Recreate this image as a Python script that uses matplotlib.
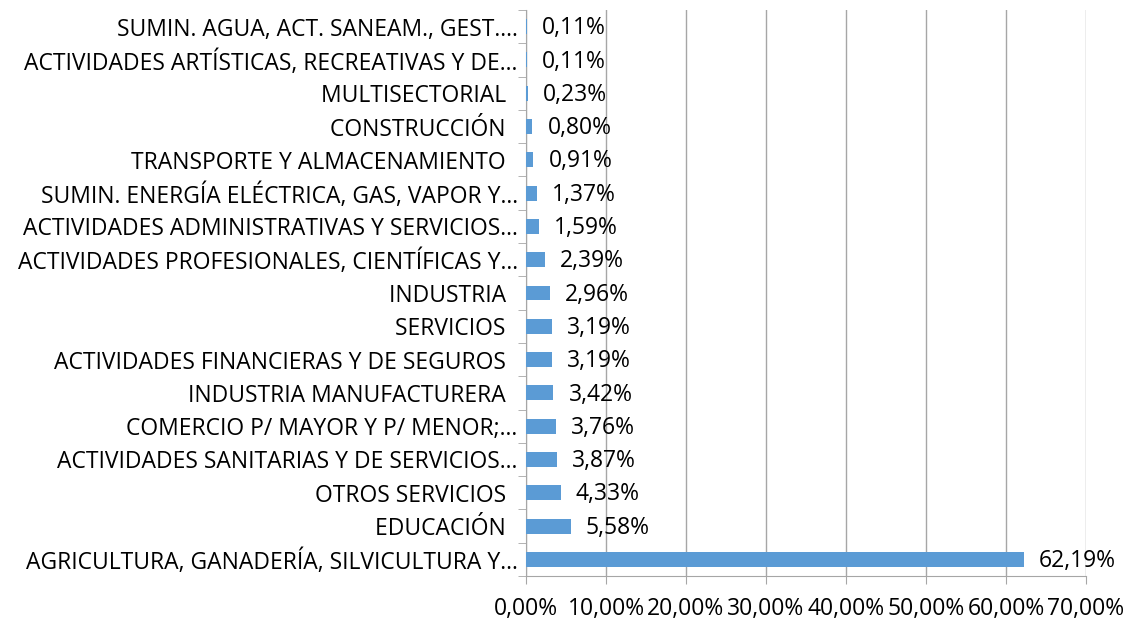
import matplotlib.pyplot as plt
from matplotlib.ticker import MultipleLocator, FixedLocator, FuncFormatter

# categories listed top to bottom, as in the reference
sectores = [
    "SUMIN. AGUA, ACT. SANEAM., GEST.…",
    "ACTIVIDADES ARTÍSTICAS, RECREATIVAS Y DE…",
    "MULTISECTORIAL  ",
    "CONSTRUCCIÓN  ",
    "TRANSPORTE Y ALMACENAMIENTO  ",
    "SUMIN. ENERGÍA ELÉCTRICA, GAS, VAPOR Y…",
    "ACTIVIDADES ADMINISTRATIVAS Y SERVICIOS…",
    "ACTIVIDADES PROFESIONALES, CIENTÍFICAS Y…",
    "INDUSTRIA  ",
    "SERVICIOS  ",
    "ACTIVIDADES FINANCIERAS Y DE SEGUROS  ",
    "INDUSTRIA MANUFACTURERA  ",
    "COMERCIO P/ MAYOR Y P/ MENOR;…",
    "ACTIVIDADES SANITARIAS Y DE SERVICIOS…",
    "OTROS SERVICIOS  ",
    "EDUCACIÓN  ",
    "AGRICULTURA, GANADERÍA, SILVICULTURA Y…",
]
porcentajes = [0.11, 0.11, 0.23, 0.80, 0.91, 1.37, 1.59, 2.39, 2.96, 3.19,
               3.19, 3.42, 3.76, 3.87, 4.33, 5.58, 62.19]


def fmt_pct(v):
    return f"{v:.2f}%".replace(".", ",")


plt.rcParams['font.family'] = ['Open Sans', 'DejaVu Sans']
fs = 16.5

fig = plt.figure(figsize=(11.35, 6.24), dpi=100)
ax = fig.add_axes([526 / 1135, 1 - 576 / 624, 560 / 1135, 566 / 624])

n = len(sectores)
ypos = list(range(n - 1, -1, -1))
ax.barh(ypos, porcentajes, height=0.45, color='#5B9BD5', zorder=3)

for y, v in zip(ypos, porcentajes):
    ax.text(v + 1.9, y - 0.05, fmt_pct(v), va='center', ha='left',
            fontsize=fs, color='black')

ax.set_xlim(0, 70)
ax.set_ylim(-0.5, n - 0.5)
ax.xaxis.set_major_locator(MultipleLocator(10))
ax.xaxis.set_major_formatter(FuncFormatter(lambda v, p: fmt_pct(v)))
ax.grid(axis='x', color='#A6A6A6', linewidth=1, zorder=0)

ax.set_yticks(ypos)
ax.set_yticklabels(sectores)
ax.yaxis.set_minor_locator(FixedLocator([i - 0.5 for i in range(n + 1)]))
ax.tick_params(axis='y', which='major', length=0, pad=6, labelsize=fs)
ax.tick_params(axis='y', which='minor', length=6, color='#A6A6A6')
ax.tick_params(axis='x', length=6, color='#A6A6A6', pad=9, labelsize=fs)

for side in ['top', 'right']:
    ax.spines[side].set_visible(False)
ax.spines['left'].set_color('#A6A6A6')
ax.spines['bottom'].set_color('#A6A6A6')

fig.savefig('out.png', dpi=100)
